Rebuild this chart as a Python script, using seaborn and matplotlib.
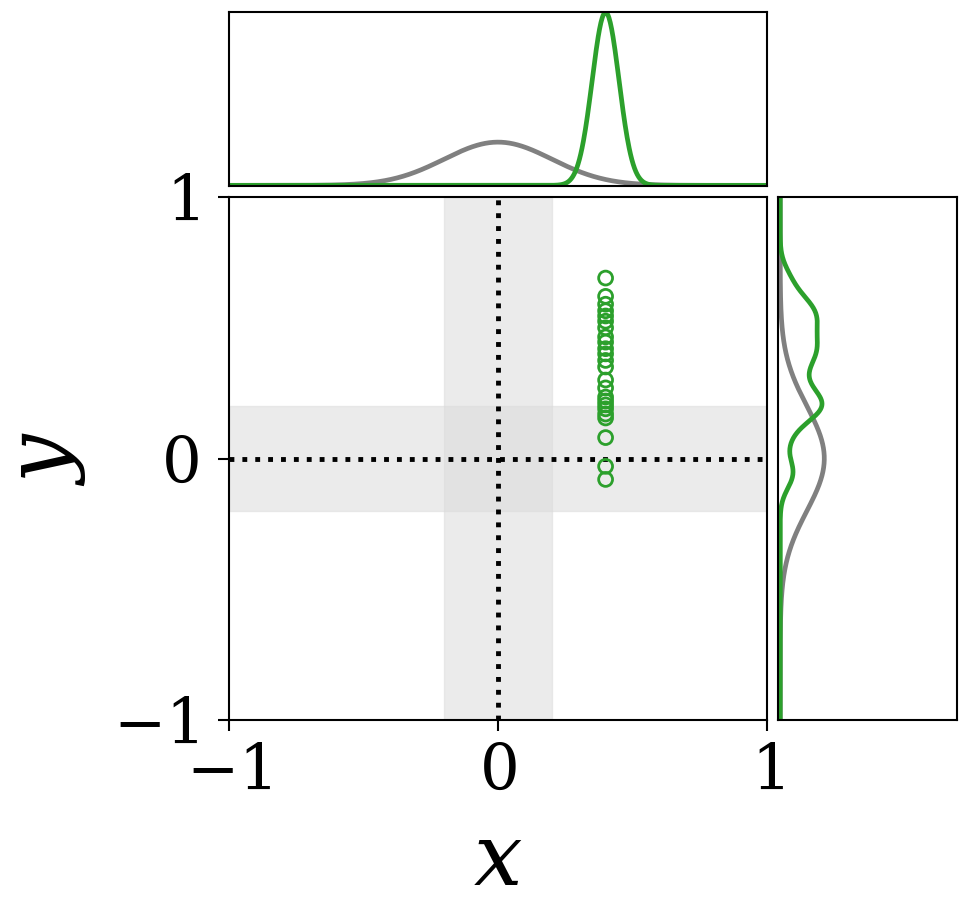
import numpy as np
import pandas as pd
import matplotlib
matplotlib.use("Agg")
import matplotlib.pyplot as plt
import seaborn as sns

# ---- data ----
obs_x = [0.4] * 24
obs_y = [0.69, 0.62, 0.59, 0.565, 0.545, 0.525, 0.50, 0.465, 0.445, 0.42,
         0.40, 0.375, 0.35, 0.30, 0.27, 0.235, 0.22, 0.205, 0.19, 0.17,
         0.155, 0.08, -0.03, -0.08]
prior_mu = 0.0
prior_sd = 0.2
post_x_mu = 0.4
post_x_sd = 0.05
band_halfwidth = 0.2
ticks = [-1, 0, 1]
tick_labels = ["$-1$", "$0$", "$1$"]

sns.set_theme(style="white")
plt.rcParams['font.family'] = ['DejaVu Serif']
plt.rcParams['mathtext.fontset'] = 'dejavuserif'
plt.rcParams['text.color'] = 'black'
plt.rcParams['axes.labelcolor'] = 'black'

W, H = 969, 917
fig = plt.figure(figsize=(W / 100, H / 100), dpi=100)

def px(l, t, r, b):
    return [l / W, 1 - b / H, (r - l) / W, (b - t) / H]

ax = fig.add_axes(px(229, 197, 767, 720))
axt = fig.add_axes(px(229, 12, 767, 186))
axr = fig.add_axes(px(778, 197, 957, 720))

green = "#2ca02c"
grey = "#808080"
band_color = "#dbdbdb"

# bands and reference lines
ax.axvspan(-band_halfwidth, band_halfwidth, facecolor=band_color, edgecolor=band_color,
           alpha=0.53, lw=1)
ax.axhspan(-band_halfwidth, band_halfwidth, facecolor=band_color, edgecolor=band_color,
           alpha=0.53, lw=1)
ax.axvline(0, color="black", ls=":", lw=3.5)
ax.axhline(0, color="black", ls=":", lw=3.5)

df = pd.DataFrame({"x": obs_x, "y": obs_y})
sns.scatterplot(data=df, x="x", y="y", ax=ax, marker="o", s=100,
                facecolor="none", edgecolor=green, linewidth=2.0, zorder=5)

ax.set_xlim(-1, 1)
ax.set_ylim(-1, 1)
ax.set_xticks(ticks)
ax.set_xticklabels(tick_labels)
ax.set_yticks(ticks)
ax.set_yticklabels(tick_labels)
ax.tick_params(direction="out", length=8, width=1.5, labelsize=45,
               colors="black", bottom=True, left=True)
ax.tick_params(axis="x", pad=8)
ax.tick_params(axis="y", pad=14)
ax.set_xlabel("$x$", fontsize=62, labelpad=12)
ax.set_ylabel("$y$", fontsize=62, labelpad=18)

# marginal curves
grid = np.linspace(-1, 1, 801)
prior_pdf = np.exp(-0.5 * ((grid - prior_mu) / prior_sd) ** 2) / (prior_sd * np.sqrt(2 * np.pi))
postx_pdf = np.exp(-0.5 * ((grid - post_x_mu) / post_x_sd) ** 2) / (post_x_sd * np.sqrt(2 * np.pi))

sns.lineplot(x=grid, y=prior_pdf, ax=axt, color=grey, lw=3.4)
sns.lineplot(x=grid, y=postx_pdf, ax=axt, color=green, lw=3.4)
axt.set_xlim(-1, 1)
axt.set_ylim(-0.03, 8.0)

axr.plot(prior_pdf, grid, color=grey, lw=3.4)
sns.kdeplot(y=obs_y, ax=axr, color=green, lw=3.4, bw_adjust=0.48,
            cut=20, clip=(-1, 1), gridsize=600)
axr.set_ylim(-1, 1)
axr.set_xlim(-0.1, 8.0)

for a in (axt, axr):
    a.set_xticks([])
    a.set_yticks([])
    a.set_xlabel("")
    a.set_ylabel("")

for a in (ax, axt, axr):
    for s in a.spines.values():
        s.set_color("black")
        s.set_linewidth(1.5)

fig.savefig("out.png", dpi=100)
